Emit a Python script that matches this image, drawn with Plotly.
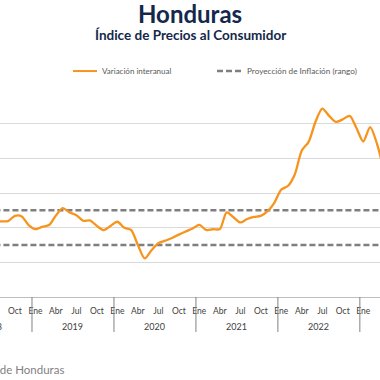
import plotly.graph_objects as go

# Monthly data, Jul 2018 .. Apr 2023 (month index 0 = Ene 2019)
month_index = list(range(-6, 52))
inflacion = [
    4.35, 4.36, 4.38, 4.68, 4.65, 4.15,              # Jul-Dec 2018
    3.91, 4.05, 4.15, 4.70, 5.13, 4.88, 4.72, 4.40, 4.42, 4.10, 3.86, 4.10,  # 2019
    4.34, 4.00, 3.87, 3.00, 2.23, 2.70, 3.10, 3.25, 3.40, 3.60, 3.78, 3.95,  # 2020
    4.16, 3.87, 3.91, 3.92, 4.88, 4.60, 4.30, 4.50, 4.62, 4.68, 4.95, 5.45,  # 2021
    6.20, 6.42, 7.10, 8.45, 8.95, 10.10, 10.87, 10.45, 10.10, 10.25, 10.45, 9.75,  # 2022
    8.97, 9.80, 8.85, 7.30,                          # 2023
]
rango_inf = [3.0] * len(month_index)
rango_sup = [5.0] * len(month_index)

mes_labels = ["Ene", "Abr", "Jul", "Oct"]
years = [2018, 2019, 2020, 2021, 2022, 2023]

W, H = 380, 380
x0, x1 = -5.185, 50.45   # visible month range
def px2paper(k):
    return (k - x0) / (x1 - x0)

def ypaper(py):
    return (H - 82.5 - py) / 208.5

fig = go.Figure()
for vals in (rango_inf, rango_sup):
    fig.add_trace(go.Scatter(x=month_index, y=vals, mode="lines",
                             line=dict(color="#7f7f7f", width=2.5, dash="6px,3px"),
                             showlegend=False, hoverinfo="skip"))
fig.add_trace(go.Scatter(x=month_index, y=inflacion, mode="lines",
                         line=dict(color="#F7941D", width=2.3, shape="spline", smoothing=0.8),
                         showlegend=False))

# month tick labels
tickvals, ticktext = [], []
for k in range(-6, 52):
    m = k % 12
    if m in (0, 3, 6, 9):
        tickvals.append(k)
        ticktext.append(mes_labels[m // 3])

shapes = []
annotations = []
# year dividers and labels
for i, yr in enumerate(years):
    start = (yr - 2019) * 12 - 0.5
    shapes.append(dict(type="line", xref="paper", yref="paper",
                       x0=px2paper(start), x1=px2paper(start), y0=0, y1=-0.168,
                       line=dict(color="#808080", width=1)))
    annotations.append(dict(xref="paper", yref="paper", x=px2paper(start + 6), y=-0.14,
                            text=str(yr), showarrow=False, xanchor="center", yanchor="middle",
                            font=dict(size=9, color="#404040", family="Lato")))

# legend (manual)
shapes.append(dict(type="line", xref="paper", yref="paper", x0=73/W, x1=97/W,
                   y0=ypaper(71), y1=ypaper(71),
                   line=dict(color="#F7941D", width=2)))
annotations.append(dict(xref="paper", yref="paper", x=100/W, y=ypaper(71),
                        text="Variación interanual", showarrow=False, xanchor="left",
                        yanchor="middle", font=dict(size=8, color="#595959", family="Lato")))
shapes.append(dict(type="line", xref="paper", yref="paper", x0=217/W, x1=242/W,
                   y0=ypaper(71), y1=ypaper(71),
                   line=dict(color="#7f7f7f", width=2.5, dash="6px,3px")))
annotations.append(dict(xref="paper", yref="paper", x=245/W, y=ypaper(71),
                        text="Proyección de Inflación (rango)", showarrow=False, xanchor="left",
                        yanchor="middle", font=dict(size=8.2, color="#595959", family="Lato")))

# titles
annotations.append(dict(xref="paper", yref="paper", x=190/W, y=ypaper(13),
                        text="<b>Honduras</b>", showarrow=False, xanchor="center", yanchor="middle",
                        font=dict(size=24, color="#14284b", family="Lato")))
annotations.append(dict(xref="paper", yref="paper", x=190/W, y=ypaper(35),
                        text="<b>Índice de Precios al Consumidor</b>", showarrow=False,
                        xanchor="center", yanchor="middle",
                        font=dict(size=13.5, color="#14284b", family="Lato")))
# source
annotations.append(dict(xref="paper", yref="paper", x=66/W, y=ypaper(370),
                        text="Fuente: Banco Central de Honduras", showarrow=False,
                        xanchor="right", yanchor="middle",
                        font=dict(size=11.5, color="#7f7f7f", family="Lato")))

fig.update_layout(
    width=W, height=H,
    margin=dict(l=0, r=0, t=89, b=82.5, pad=0),
    plot_bgcolor="white", paper_bgcolor="white",
    xaxis=dict(range=[x0, x1], tickvals=tickvals, ticktext=ticktext, showgrid=False,
               zeroline=False, showline=True, linecolor="#bfbfbf", linewidth=1,
               ticks="", ticklabelstandoff=6,
               tickfont=dict(size=8.5, color="#404040", family="Lato")),
    yaxis=dict(range=[0, 12], dtick=2, showgrid=True, gridcolor="#d9d9d9", gridwidth=1,
               zeroline=False, showticklabels=False, showline=False),
    shapes=shapes, annotations=annotations, showlegend=False,
)

fig.write_html("out.html", config={"displayModeBar": False},
               post_script="document.body.style.margin='0';document.body.style.overflow='hidden';")
